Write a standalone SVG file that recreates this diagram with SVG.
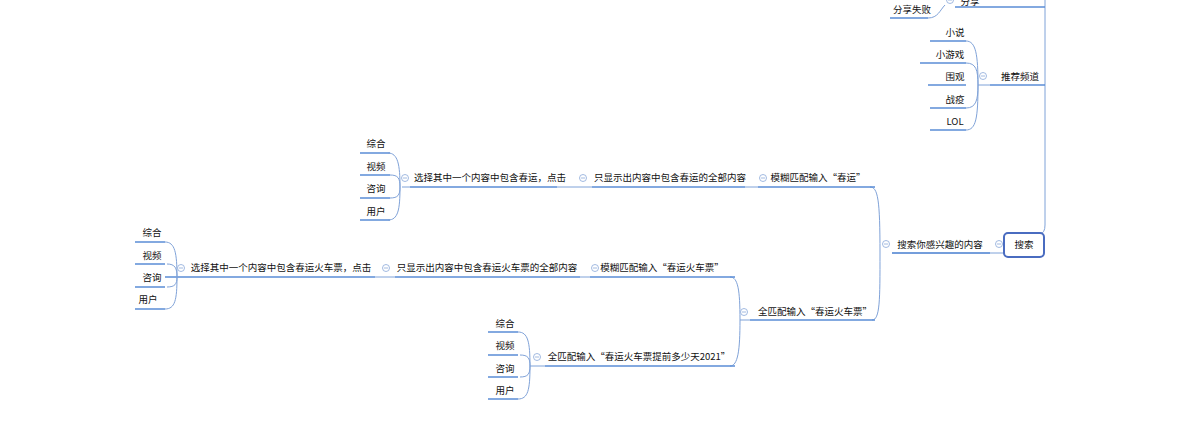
<svg xmlns="http://www.w3.org/2000/svg" width="1196" height="427" viewBox="0 0 1196 427">
<style>
text{font-family:"Noto Sans CJK SC","Liberation Sans",sans-serif;font-size:9.5px;fill:#111;text-anchor:middle;dominant-baseline:middle}
.l{fill:none;stroke:#5b8dd6;stroke-width:1.6}
.c{fill:none;stroke:#7fa2d8;stroke-width:1}
.ci{fill:#fff;stroke:#8aa8d8;stroke-width:0.8}
.m{stroke:#8aa8d8;stroke-width:0.8}
</style>
<defs><g id="col"><circle class="ci" r="3.5"/><path class="m" d="M-2 0 H2"/></g></defs>
<rect width="1196" height="427" fill="#fff"/>
<g id="connectors">
<path class="c" d="M1045 0 V225 Q1045 233 1040 234"/>
<path class="l" d="M955 7 H1045 M990 85 H1045"/>
<path class="c" d="M1004 253 H892"/>
<path class="l" d="M892 253 H990"/>
<path class="c" d="M880 253 C880 200 878 187 870 187 M880 253 C880 300 880 320 872 320"/>
<path class="l" d="M758 187 H875 M750 320 H875"/>
<path class="l" d="M592 187 H745 M410 187 H557"/>
<path class="c" d="M557 187 H592 M745 187 H758 M402 187 H410"/>
<path class="l" d="M360 153 H390 M360 175 H390 M360 198 H390 M360 220 H390"/>
<path class="c" d="M400 187 C400 165 398 153 388 153 M400 187 C400 178 398 175 390 175 M400 187 C400 195 398 198 390 198 M400 187 C400 210 398 220 388 220"/>
<path class="c" d="M740 320 C740 290 738 277 730 277 M740 320 C740 350 738 366 730 366 M740 320 H750"/>
<path class="l" d="M590 277 H735 M395 277 H580 M165 277 H375 M545 366 H735"/>
<path class="c" d="M580 277 H590 M375 277 H395"/>
<path class="l" d="M135 242 H165 M135 264 H165 M135 287 H165 M135 309 H165"/>
<path class="c" d="M177 277 C177 253 175 242 165 242 M177 277 C177 268 175 264 167 264 M177 277 C177 284 175 287 167 287 M177 277 C177 300 175 309 165 309"/>
<path class="l" d="M488 332 H518 M488 355 H518 M488 377 H518 M488 399 H518"/>
<path class="c" d="M530 366 C530 342 528 332 518 332 M530 366 C530 358 528 355 520 355 M530 366 C530 374 528 377 520 377 M530 366 C530 390 528 399 518 399 M530 366 H545"/>
<path class="l" d="M930 41 H966 M920 63 H966 M928 85 H966 M930 108 H966 M930 130 H966"/>
<path class="c" d="M978 85 C978 55 976 41 966 41 M978 85 C978 70 976 63 966 63 M978 85 H990 M978 85 C978 100 976 108 966 108 M978 85 C978 118 976 130 966 130"/>
<path class="l" d="M890 18 H928"/>
<path class="c" d="M928 18 C938 18 940 10 945 5"/>
</g>
<g id="n-search"><rect x="1004" y="233" width="40" height="24" rx="4" fill="#fff" stroke="#4a6cc0" stroke-width="2"/><text x="1024" y="245">搜索</text></g>
<g id="collapse">
<use href="#col" x="999" y="244"/><use href="#col" x="886" y="244"/>
<use href="#col" x="763" y="178"/><use href="#col" x="583" y="178"/><use href="#col" x="405" y="178"/>
<use href="#col" x="744" y="312"/><use href="#col" x="595" y="268"/><use href="#col" x="386" y="268"/><use href="#col" x="181" y="268"/>
<use href="#col" x="537" y="357"/><use href="#col" x="983" y="76"/><use href="#col" x="950" y="0"/>
</g>
<g id="n-interest"><text x="940" y="245">搜索你感兴趣的内容</text></g>
<g id="n-fuzzy1"><text x="818" y="178">模糊匹配输入“春运”</text></g>
<g id="n-show1"><text x="670" y="178">只显示出内容中包含春运的全部内容</text></g>
<g id="n-select1"><text x="490" y="178">选择其中一个内容中包含春运，点击</text></g>
<g id="n-leaves1"><text x="376" y="144">综合</text><text x="376" y="167">视频</text><text x="376" y="189">咨询</text><text x="376" y="212">用户</text></g>
<g id="n-exact1"><text x="815" y="312">全匹配输入“春运火车票”</text></g>
<g id="n-fuzzy2"><text x="662" y="268">模糊匹配输入“春运火车票”</text></g>
<g id="n-show2"><text x="487" y="268">只显示出内容中包含春运火车票的全部内容</text></g>
<g id="n-select2"><text x="281" y="268">选择其中一个内容中包含春运火车票，点击</text></g>
<g id="n-leaves2"><text x="152" y="233">综合</text><text x="152" y="256">视频</text><text x="152" y="278">咨询</text><text x="148" y="300">用户</text></g>
<g id="n-exact2"><text x="639" y="357">全匹配输入“春运火车票提前多少天2021”</text></g>
<g id="n-leaves3"><text x="505" y="324">综合</text><text x="505" y="346">视频</text><text x="505" y="369">咨询</text><text x="505" y="391">用户</text></g>
<g id="n-recommend"><text x="1020" y="77">推荐频道</text></g>
<g id="n-channels"><text x="955" y="33">小说</text><text x="950" y="55">小游戏</text><text x="955" y="77">围观</text><text x="955" y="100">战疫</text><text x="955" y="122">LOL</text></g>
<g id="n-share"><text x="970" y="2">分享</text></g>
<g id="n-sharefail"><text x="912" y="10">分享失败</text></g>
</svg>
